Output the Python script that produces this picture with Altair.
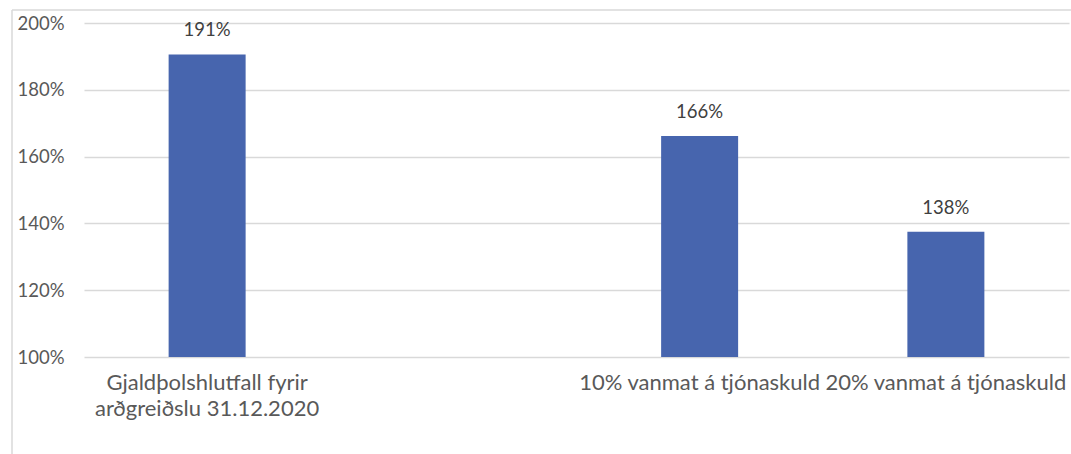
import altair as alt
import pandas as pd

categories = [
    "Gjaldþolshlutfall fyrir\narðgreiðslu 31.12.2020",
    " ",
    "10% vanmat á tjónaskuld",
    "20% vanmat á tjónaskuld",
]
values = [1.906, None, 1.662, 1.375]
labels = ["191%", "", "166%", "138%"]
y_ticks = [1.0, 1.2, 1.4, 1.6, 1.8, 2.0]

FONT = "Lato"
TXT = "#595959"
GRID = "#d9d9d9"
BAR = "#4765ae"

df = pd.DataFrame({"cat": categories, "val": values, "lab": labels})
bars_df = df.dropna()

W, H = 985, 334

x = alt.X(
    "cat:N",
    scale=alt.Scale(domain=categories, paddingInner=0, paddingOuter=0),
    axis=alt.Axis(
        title=None, labelAngle=0, labelLimit=400, domain=False, ticks=False,
        labelPadding=15, labelFont=FONT, labelFontSize=22, labelColor=TXT,
        labelLineHeight=26, labelBaseline="top", grid=False,
        labelExpr="split(datum.label, '\\n')",
    ),
)
y = alt.Y(
    "val:Q",
    scale=alt.Scale(domain=[1.0, 2.0], zero=False, nice=False),
    axis=alt.Axis(
        title=None, values=y_ticks, format=".0%", domain=False, ticks=False,
        labelPadding=20, labelFont=FONT, labelFontSize=18.5, labelColor=TXT,
        gridColor=GRID, gridWidth=1.5,
    ),
)

bars = alt.Chart(bars_df).mark_bar(size=77, color=BAR).encode(
    x=x, y=y, y2=alt.datum(1.0)
)
text = alt.Chart(bars_df).mark_text(
    font=FONT, fontSize=18.5, color="#404040", dy=-14, baseline="bottom"
).encode(x=x, y=y, text="lab:N")

frame_top = alt.Chart(pd.DataFrame({"a": [0]})).mark_rule(color=GRID, strokeWidth=1.5).encode(
    x=alt.value(-72), x2=alt.value(990), y=alt.value(-13)
)
frame_left = alt.Chart(pd.DataFrame({"a": [0]})).mark_rule(color=GRID, strokeWidth=1.5).encode(
    x=alt.value(-72), y=alt.value(-13), y2=alt.value(435)
)

chart = alt.layer(frame_top, frame_left, bars, text).properties(
    width=W, height=H,
    background="white",
    autosize=alt.AutoSizeParams(type="none"),
    padding={"left": 84, "top": 23, "right": 2, "bottom": 97},
).configure_view(stroke=None, strokeWidth=0)

chart.save("out.html", embed_options={"renderer": "svg", "actions": False})
